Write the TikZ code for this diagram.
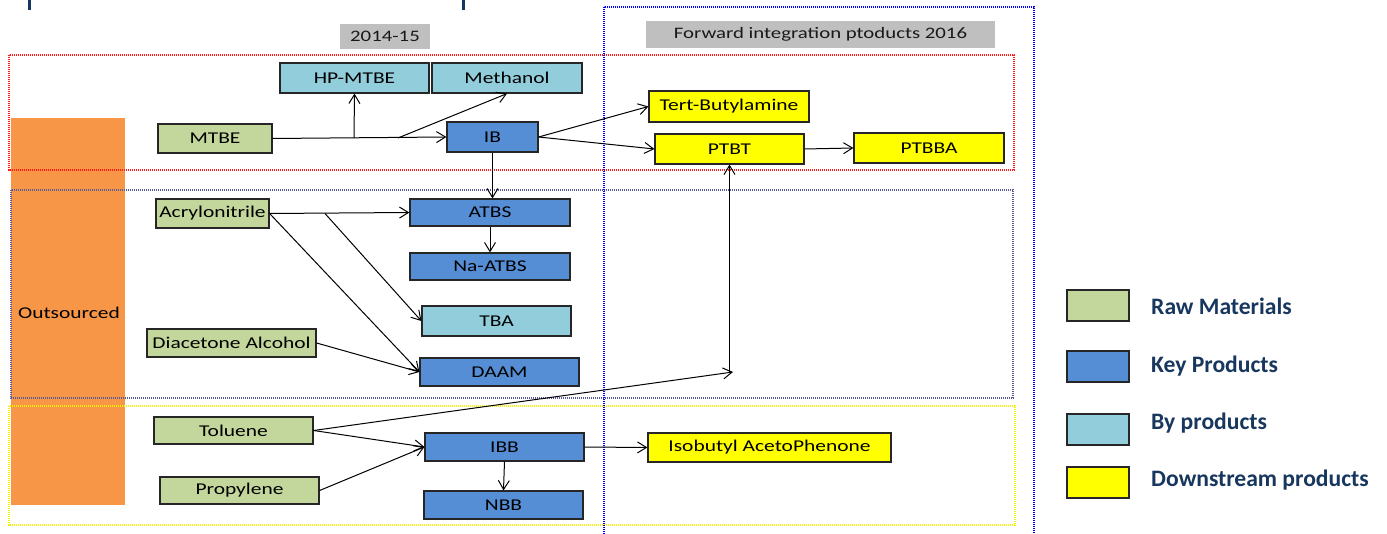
\documentclass[tikz,border=0pt]{standalone}
\usepackage{fontspec}
\setmainfont{Carlito}
\newfontfamily\nodefont{Carlito}[FakeStretch=1.3]
\usetikzlibrary{arrows.meta}
\definecolor{rawc}{HTML}{C3D69B}
\definecolor{keyc}{HTML}{558ED5}
\definecolor{byc}{HTML}{92CDDC}
\definecolor{downc}{HTML}{FFFF00}
\definecolor{orangec}{HTML}{F79646}
\definecolor{legc}{HTML}{17375E}
\definecolor{grayc}{HTML}{BFBFBF}
\definecolor{midc}{HTML}{5A5A96}
\definecolor{yelc}{HTML}{F5F000}
\begin{document}
\begin{tikzpicture}[x=1pt,y=-1pt,
  box/.style={draw=black!85, line width=1.2pt, inner sep=0pt,
    font=\nodefont\fontsize{16.5}{18}\selectfont, text=black},
  rawbox/.style={box, fill=rawc},
  keybox/.style={box, fill=keyc},
  bybox/.style={box, fill=byc},
  downbox/.style={box, fill=downc},
  hdr/.style={fill=grayc, inner sep=0pt, font=\nodefont\fontsize{16}{18}\selectfont, text=black!90},
  legbox/.style={draw=black!85, line width=1.8pt, minimum width=62pt, minimum height=31pt, inner sep=0pt},
  legtext/.style={anchor=west, inner sep=0pt, text=legc, font=\fontsize{23.6}{26}\selectfont\bfseries},
  flow/.style={draw=black, line width=1pt, -{Straight Barb[length=9pt,width=11pt,line width=1pt]}},
  zone/.style={line width=1.3pt, dash pattern=on 1.2pt off 0.8pt}
]
\useasboundingbox (0,0) rectangle (1387,534);
% title fragments
\fill[legc] (28,0) rectangle (31,10);
\fill[legc] (462,0) rectangle (465,10);
% outsourced band
\fill[orangec] (11,118) rectangle (125,505);
\node[font=\nodefont\fontsize{16.5}{18}\selectfont] (outs) at (69,313) {Outsourced};
% zones
\draw[zone, draw=red!90] (9,55) rectangle (1014,170);
\draw[zone, draw=midc] (11,190) rectangle (1013,398);
\draw[zone, draw=yelc] (9,406) rectangle (1015,525);
\draw[zone, draw=blue] (604,7) rectangle (1034,545);
% headers
\node[hdr, minimum width=90pt, minimum height=25pt] (h1) at (385,36.5) {2014-15};
\node[hdr, minimum width=349pt, minimum height=27pt] (h2) at (820.5,34.5) {Forward integration ptoducts 2016};
% nodes
\node[bybox, minimum width=149pt, minimum height=30pt] (hpmtbe) at (354.5,78) {HP-MTBE};
\node[bybox, minimum width=150pt, minimum height=30pt] (methanol) at (507,78) {Methanol};
\node[rawbox, minimum width=114pt, minimum height=29pt] (mtbe) at (215,138.5) {MTBE};
\node[keybox, minimum width=91pt, minimum height=30pt] (ib) at (492.5,137) {IB};
\node[downbox, minimum width=160pt, minimum height=31pt] (tert) at (729,106.5) {Tert-Butylamine};
\node[downbox, minimum width=149pt, minimum height=30pt] (ptbt) at (729.5,149) {PTBT};
\node[downbox, minimum width=150pt, minimum height=30pt] (ptbba) at (929,148) {PTBBA};
\node[rawbox, minimum width=113pt, minimum height=29pt] (acrylo) at (212.5,213.5) {Acrylonitrile};
\node[keybox, minimum width=160pt, minimum height=27pt] (atbs) at (490,212.5) {ATBS};
\node[keybox, minimum width=160pt, minimum height=27pt] (naatbs) at (490,266.5) {Na-ATBS};
\node[bybox, minimum width=149pt, minimum height=30pt] (tba) at (496.5,321) {TBA};
\node[rawbox, minimum width=169pt, minimum height=28pt] (diac) at (231.5,343) {Diacetone Alcohol};
\node[keybox, minimum width=159pt, minimum height=28pt] (daam) at (499.5,372) {DAAM};
\node[rawbox, minimum width=159pt, minimum height=27pt] (toluene) at (233.5,430.5) {Toluene};
\node[keybox, minimum width=159pt, minimum height=28pt] (ibb) at (504.5,447) {IBB};
\node[rawbox, minimum width=159pt, minimum height=27pt] (propylene) at (239.5,490.5) {Propylene};
\node[keybox, minimum width=159pt, minimum height=28pt] (nbb) at (503.5,505) {NBB};
\node[downbox, minimum width=243pt, minimum height=29pt] (iap) at (769.5,447.5) {Isobutyl AcetoPhenone};
% connectors
\coordinate (b1) at (354,138);
\coordinate (b2) at (398,138);
\coordinate (b3) at (325,213.5);
\coordinate (tp) at (733,372);
\draw[flow] (mtbe.east) -- (ib.west);
\draw[flow] (b1) -- (hpmtbe.south);
\draw[flow] (b2) -- (methanol.south);
\draw[flow] (ib.east) -- (tert.west);
\draw[flow] (ib.east) -- (ptbt.west);
\draw[flow] (ptbt.east) -- (ptbba.west);
\draw[flow] (ib.south) -- (ib.south |- atbs.north);
\draw[flow] (acrylo.east) -- (atbs.west);
\draw[flow] (b3) -- (tba.west);
\draw[flow] (acrylo.east) -- (daam.west);
\draw[flow] (diac.east) -- (daam.west);
\draw[flow] (atbs.south) -- (naatbs.north);
\draw[flow] (toluene.east) -- (ibb.west);
\draw[flow] (propylene.east) -- (ibb.west);
\draw[flow] (toluene.east) -- (tp);
\draw[flow] (ptbt.south |- tp) -- (ptbt.south);
\draw[flow] (ibb.south) -- (nbb.north);
\draw[flow] (ibb.east) -- (iap.west);
% legend
\node[legbox, fill=rawc] (l1) at (1098,305.5) {};
\node[legbox, fill=keyc] (l2) at (1098,366.5) {};
\node[legbox, fill=byc] (l3) at (1098,429.5) {};
\node[legbox, fill=downc] (l4) at (1098,482.5) {};
\node[legtext] (t1) at (1151,306) {Raw Materials};
\node[legtext] (t2) at (1151,366) {Key Products};
\node[legtext] (t3) at (1151,423) {By products};
\node[legtext] (t4) at (1151,480) {Downstream products};
\end{tikzpicture}
\end{document}
